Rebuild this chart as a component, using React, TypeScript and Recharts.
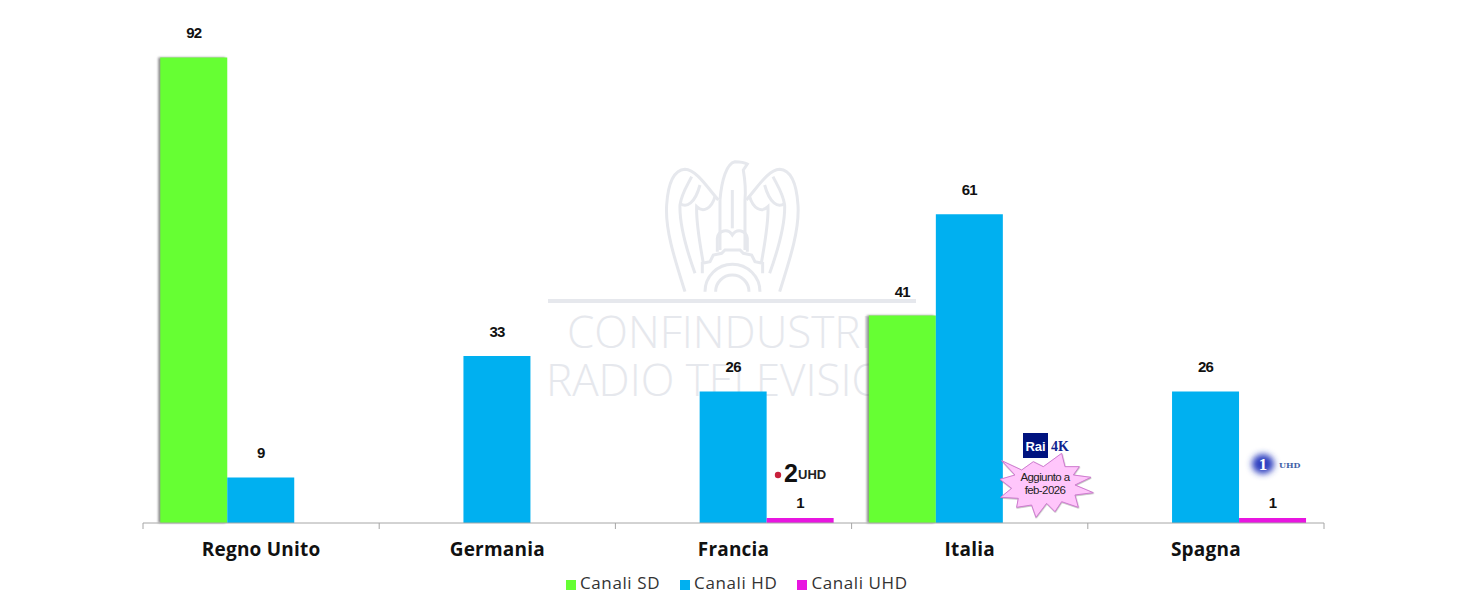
import React from 'react';
import { BarChart, Bar, XAxis, YAxis, LabelList, Legend, Rectangle } from 'recharts';

const categories = ['Regno Unito', 'Germania', 'Francia', 'Italia', 'Spagna'];
const canaliSD = [92, null, null, 41, null];
const canaliHD = [9, 33, 26, 61, 26];
const canaliUHD = [null, null, 1, null, 1];
const rows = categories.map((name, i) => ({ name, sd: canaliSD[i], hd: canaliHD[i], uhd: canaliUHD[i] }));

const GREEN = '#66ff33';
const BLUE = '#00b0f0';
const MAGENTA = '#e815e0';
const AXIS = '#a6a6a6';
const WM = '#e6e8ed';
const W = 1461;
const H = 606;
const SANS = '"Liberation Sans", sans-serif';
const GOTHIC = '"Open Sans", sans-serif';

const starZoomPts = '725,122 785,150 820,125 850,140 905,100 915,140 958,140 940,165 993,172 945,195 1000,218 945,225 955,262 905,245 885,275 860,250 828,292 815,255 770,262 775,235 722,232 755,205 720,178 765,165';

function AxisTick(props: any) {
  const { x, y, payload, width, visibleTicksCount, index } = props;
  const band = width / visibleTicksCount;
  const axisY = y - 8;
  return (
    <g>
      <line x1={x - band / 2} x2={x - band / 2} y1={axisY} y2={axisY + 6} stroke={AXIS} />
      {index === visibleTicksCount - 1 && (
        <line x1={x + band / 2} x2={x + band / 2} y1={axisY} y2={axisY + 6} stroke={AXIS} />
      )}
      <text x={x} y={axisY + 33} textAnchor="middle" fontFamily={GOTHIC} fontWeight={700} fontSize={19} letterSpacing={0.2} fill="#111">
        {payload.value}
      </text>
    </g>
  );
}

function ShadowBar(props: any) {
  return <Rectangle {...props} style={{ filter: 'drop-shadow(-2px 0 1px rgba(90,90,90,0.7))' }} />;
}

function Watermark() {
  const wing = [
    'M435 425 C405 330 375 240 380 165 C385 90 405 60 435 58 C470 60 500 110 535 150',
    'M465 370 C440 300 418 220 420 165 C425 130 440 110 455 80',
    'M420 160 C440 175 465 160 480 105',
    'M490 340 C480 280 468 220 470 170 C490 190 515 175 525 140',
  ];
  return (
    <svg width={W} height={H} style={{ position: 'absolute', left: 0, top: 0 }}>
      <g transform="translate(540 150) scale(0.3333)" fill="none" stroke={WM} strokeWidth={9}>
        {wing.map((d) => <path key={d} d={d} />)}
        {wing.map((d) => <path key={d + 'r'} d={d} transform="translate(1154 0) scale(-1 1)" />)}
        <path d="M540 150 L540 300" />
        <path d="M540 150 C545 90 560 40 585 35 C600 35 615 38 622 42 L610 60 C615 90 618 120 615 150 L615 300" />
        <path d="M577 120 L577 235" />
        <path d="M532 305 L532 265 C535 240 565 235 577 255 C590 235 618 240 622 265 L622 305" />
        <path d="M487 370 L487 340 L510 335 L520 315 L545 310 L555 300 L600 300 L610 310 L635 315 L645 335 L668 340 L668 370" />
        <path d="M495 425 A82 82 0 0 1 660 425" />
        <path d="M527 425 A50 50 0 0 1 627 425" />
      </g>
      <rect x={548} y={299} width={368} height={4} fill={WM} />
      <text x={567} y={348} fontFamily={GOTHIC} fontWeight={300} fontSize={44} fill={WM}>CONFINDUSTRIA</text>
      <text x={546} y={396} fontFamily={GOTHIC} fontWeight={300} fontSize={44} fill={WM}>RADIO TELEVISIONI</text>
    </svg>
  );
}

function Overlays() {
  return (
    <svg width={W} height={H} style={{ position: 'absolute', left: 0, top: 0 }}>
      <defs>
        <filter id="starShadow" x="-20%" y="-20%" width="140%" height="140%">
          <feDropShadow dx={1} dy={2} stdDeviation={2} floodColor="#777" floodOpacity={0.6} />
        </filter>
        <filter id="blur1" x="-50%" y="-50%" width="200%" height="200%"><feGaussianBlur stdDeviation={3} /></filter>
      </defs>
      <circle cx={778} cy={475} r={3.2} fill="#c8203c" />
      <text x={784} y={482} fontFamily={SANS} fontWeight={700} fontSize={25} fill="#111">2</text>
      <text x={798} y={479} fontFamily={SANS} fontWeight={700} fontSize={13} fill="#222">UHD</text>

      <rect x={1023} y={433} width={25} height={25} fill="#00137f" />
      <text x={1035.5} y={451} textAnchor="middle" fontFamily={SANS} fontWeight={700} fontSize={13} fill="#fff">Rai</text>
      <text x={1051} y={451} fontFamily='"Liberation Serif", serif' fontWeight={700} fontSize={14} fill="#10248f">4K</text>

      <g transform="translate(760 420) scale(0.3333)" filter="url(#starShadow)">
        <polygon points={starZoomPts} fill="#ffc6fb" stroke="#cf7ad0" strokeWidth={3} />
      </g>
      <text x={1045} y={481} textAnchor="middle" fontFamily={SANS} fontSize={11.5} letterSpacing={-0.6} fill="#222">Aggiunto a</text>
      <text x={1045} y={494} textAnchor="middle" fontFamily={SANS} fontSize={11.5} letterSpacing={-0.6} fill="#222">feb-2026</text>

      <ellipse cx={1263} cy={464} rx={11} ry={10} fill="#2f3fc0" filter="url(#blur1)" />
      <text x={1263} y={470} textAnchor="middle" fontFamily='"Liberation Serif", serif' fontWeight={700} fontSize={17} fill="#fff">1</text>
      <text x={1279} y={468} fontFamily='"DejaVu Serif", serif' fontWeight={700} fontSize={8} fill="#3f62a8">UHD</text>
    </svg>
  );
}

const labelStyle = { fontFamily: SANS, fontWeight: 700, fontSize: 15, letterSpacing: -0.8, fill: '#111' };

const legendText = (value: string) => (
  <span style={{ color: '#333', fontFamily: GOTHIC, fontSize: 17, letterSpacing: 0.6, marginRight: 10 }}>{value}</span>
);

export default function App() {
  return (
    <div style={{ position: 'absolute', left: 0, top: 0, width: W, height: H, background: '#fff', overflow: 'hidden' }}>
      <Watermark />
      <div style={{ position: 'absolute', left: 0, top: 0 }}>
        <BarChart
          width={W}
          height={H}
          data={rows}
          margin={{ top: 17, right: 137, bottom: 0, left: 143 }}
          barCategoryGap="7.3%"
          barGap={0}
        >
          <YAxis hide domain={[0, 100]} />
          <XAxis
            dataKey="name"
            axisLine={{ stroke: AXIS }}
            tickLine={false}
            interval={0}
            height={60}
            tick={<AxisTick />}
          />
          <Legend
            verticalAlign="bottom"
            align="left"
            iconType="square"
            iconSize={10}
            itemSorter={null}
            formatter={legendText}
            wrapperStyle={{ position: 'absolute', left: 566, top: 571, width: 400 }}
          />
          <Bar dataKey="sd" name="Canali SD" fill={GREEN} isAnimationActive={false} shape={<ShadowBar />}>
            <LabelList dataKey="sd" position="top" offset={19} style={labelStyle} />
          </Bar>
          <Bar dataKey="hd" name="Canali HD" fill={BLUE} isAnimationActive={false}>
            <LabelList dataKey="hd" position="top" offset={19} style={labelStyle} />
          </Bar>
          <Bar dataKey="uhd" name="Canali UHD" fill={MAGENTA} isAnimationActive={false}>
            <LabelList dataKey="uhd" position="top" offset={10} style={labelStyle} />
          </Bar>
        </BarChart>
      </div>
      <Overlays />
    </div>
  );
}
